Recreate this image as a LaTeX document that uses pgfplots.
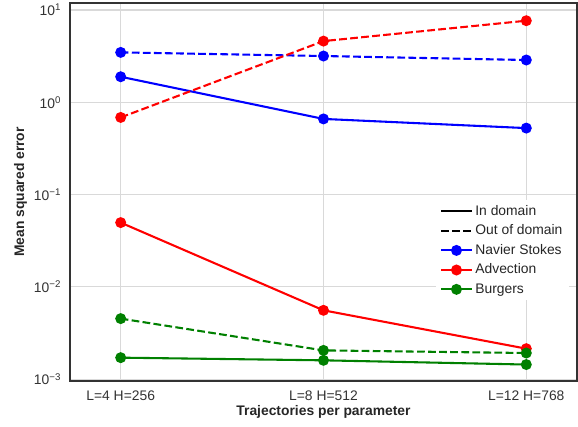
\documentclass[border=0pt]{standalone}
\usepackage{pgfplots}
\pgfplotsset{compat=1.18}
\usepackage{fontspec}
\setmainfont{Liberation Sans}
\definecolor{gridc}{HTML}{D9D9D9}
\definecolor{framec}{HTML}{333333}
\definecolor{mplgreen}{RGB}{0,128,0}
\begin{document}
\fontsize{10.4}{12.5}\selectfont
\begin{tikzpicture}
\path[use as bounding box] (-52.5pt,-33.75pt) rectangle (381pt,285.75pt);
\begin{axis}[
  at={(0pt,0pt)}, anchor=south west,
  scale only axis, width=380.25pt, height=283.5pt,
  ymode=log,
  xmin=-0.25, xmax=2.25,
  ymin=0.000955, ymax=11.9,
  xtick={0,1,2},
  xticklabels={L=4 H=256, L=8 H=512, L=12 H=768},
  ytick={0.001,0.01,0.1,1,10},
  yticklabels={10\textsuperscript{−3},10\textsuperscript{−2},10\textsuperscript{−1},10\textsuperscript{0},10\textsuperscript{1}},
  minor ytick={},
  grid=major,
  major grid style={gridc, line width=0.8pt},
  axis line style={framec, line width=1pt},
  major tick length=0pt, minor tick length=0pt,
  tick label style={font=\fontsize{10.4}{12.5}\selectfont, text=black!80},
  xticklabel style={yshift=-4pt},
  yticklabel style={xshift=-3pt},
  xlabel={\bfseries Trajectories per parameter},
  ylabel={\bfseries Mean squared error},
  label style={font=\fontsize{10.4}{12.5}\selectfont, text=black!85},
  xlabel style={yshift=4pt},
  ylabel style={yshift=-2pt},
  legend style={draw=none, fill=white, at={(0.985,0.48)}, anchor=north east,
    font=\fontsize{10.4}{12.5}\selectfont, row sep=1.6pt, text=black!85},
  legend cell align=left,
  legend image code/.code={\draw[mark repeat=2,mark phase=2] plot coordinates {(0cm,0cm) (0.4cm,0cm) (0.8cm,0cm)};},
  every axis plot/.append style={line width=1.56pt},
  clip=false,
]
\addlegendimage{black, line width=1.56pt}
\addlegendentry{In domain}
\addlegendimage{black, line width=1.56pt, dash pattern=on 5.8pt off 2.5pt}
\addlegendentry{Out of domain}
\addlegendimage{blue, line width=1.56pt, mark=*, mark size=3.3pt, mark options={solid}}
\addlegendentry{Navier Stokes}
\addlegendimage{red, line width=1.56pt, mark=*, mark size=3.3pt, mark options={solid}}
\addlegendentry{Advection}
\addlegendimage{mplgreen, line width=1.56pt, mark=*, mark size=3.3pt, mark options={solid}}
\addlegendentry{Burgers}

% Navier Stokes
\addplot[blue, mark=*, mark size=3.3pt, forget plot] coordinates {(0,1.89) (1,0.66) (2,0.525)};
\addplot[blue, mark=*, mark size=3.3pt, mark options={solid}, dash pattern=on 5.8pt off 2.5pt, forget plot] coordinates {(0,3.47) (1,3.17) (2,2.87)};
% Advection
\addplot[red, mark=*, mark size=3.3pt, forget plot] coordinates {(0,0.0497) (1,0.00557) (2,0.00214)};
\addplot[red, mark=*, mark size=3.3pt, mark options={solid}, dash pattern=on 5.8pt off 2.5pt, forget plot] coordinates {(0,0.685) (1,4.6) (2,7.65)};
% Burgers
\addplot[mplgreen, mark=*, mark size=3.3pt, forget plot] coordinates {(0,0.00171) (1,0.0016) (2,0.00144)};
\addplot[mplgreen, mark=*, mark size=3.3pt, mark options={solid}, dash pattern=on 5.8pt off 2.5pt, forget plot] coordinates {(0,0.00453) (1,0.00205) (2,0.00192)};
\end{axis}
\end{tikzpicture}
\end{document}
